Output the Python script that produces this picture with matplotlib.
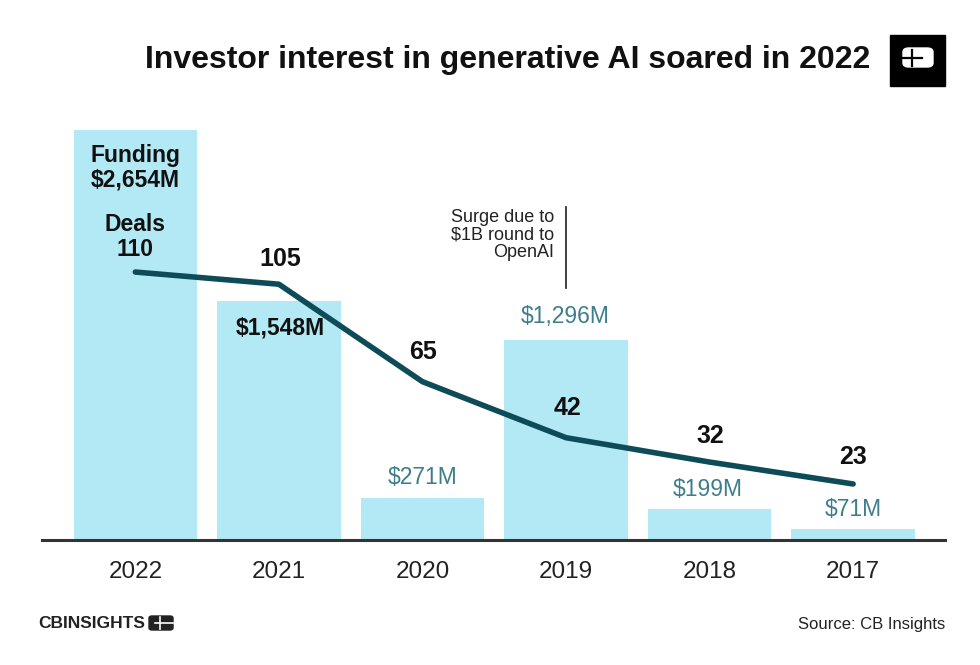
import matplotlib
matplotlib.use("Agg")
import matplotlib.pyplot as plt
from matplotlib.patches import Rectangle, FancyBboxPatch

# ---- data (display order, left to right as in reference) ----
years = ["2022", "2021", "2020", "2019", "2018", "2017"]
funding = [2654, 1548, 271, 1296, 199, 71]          # $M
deals = [110, 105, 65, 42, 32, 23]
funding_labels = ["Funding\n$2,654M", "$1,548M", "$271M", "$1,296M", "$199M", "$71M"]
deal_labels = ["Deals\n110", "105", "65", "42", "32", "23"]
title = "Investor interest in generative AI soared in 2022"
note = "Surge due to\n$1B round to\nOpenAI"
source = "Source: CB Insights"

plt.rcParams["font.family"] = ["Liberation Sans", "DejaVu Sans"]

BAR = "#b3e9f4"
LINE = "#0e4b58"
TEAL = "#3d7e8c"

fig = plt.figure(figsize=(9.8, 6.65), dpi=100)
W, H = 980, 665
def fx(x): return x / W
def fy(y): return 1 - y / H

ax = fig.add_axes([fx(42), fy(540), fx(945) - fx(42), fy(120) - fy(540)])
x = list(range(len(years)))
ax.bar(x, funding, width=0.86, color=BAR, zorder=1)
ax.set_xlim(-0.65, 5.64)
ax.set_ylim(0, 420 / 0.1545)
for s in ["top", "left", "right"]:
    ax.spines[s].set_visible(False)
ax.spines["bottom"].set_color("#333333")
ax.spines["bottom"].set_linewidth(2.2)
ax.set_yticks([])
ax.set_xticks(x)
ax.set_xticklabels(years, fontsize=17.5, color="#222222")
ax.tick_params(axis="x", length=0, pad=15)

ax2 = ax.twinx()
ax2.plot(x, deals, color=LINE, lw=4, solid_capstyle="round", zorder=3)
ax2.set_ylim(0, 420 / 2.436)
ax2.set_yticks([])
for s in ["top", "left", "right", "bottom"]:
    ax2.spines[s].set_visible(False)

# funding labels (pixel positions from reference)
fl_pos = [(135, 168), (280, 328), (423, 477), (565, 316), (708, 489), (853, 509)]
fl_style = [dict(color="#111111", fontweight="bold"), dict(color="#111111", fontweight="bold"),
            dict(color=TEAL), dict(color=TEAL), dict(color=TEAL), dict(color=TEAL)]
for lab, (px, py), st in zip(funding_labels, fl_pos, fl_style):
    fig.text(fx(px), fy(py), lab, ha="center", va="center", fontsize=16.5,
             linespacing=1.1, **st)

dl_pos = [(135, 237), (280, 259), (423, 352), (567, 408), (710, 436), (853, 457)]
for lab, (px, py) in zip(deal_labels, dl_pos):
    fig.text(fx(px), fy(py), lab, ha="center", va="center",
             fontsize=16.5 if "\n" in lab else 18,
             fontweight="bold", color="#111111", linespacing=1.1)

# annotation
fig.text(fx(554), fy(235), note, ha="right", va="center", fontsize=13,
         color="#222222", linespacing=1.05)
fig.add_artist(plt.Line2D([fx(566), fx(566)], [fy(207), fy(288)], color="#333333", lw=1.3))

# title
fig.text(fx(870), fy(60), title, ha="right", va="center", fontsize=23,
         fontweight="bold", color="#111111")

# logo box
fig.add_artist(Rectangle((fx(890), fy(86)), fx(55), fy(35) - fy(86),
                         transform=fig.transFigure, color="#000000"))
fig.add_artist(FancyBboxPatch((fx(903), fy(67)), fx(30), fy(48) - fy(67),
                              boxstyle="round,pad=0,rounding_size=0.006",
                              transform=fig.transFigure, fc="white", ec="white", lw=1))
fig.add_artist(plt.Line2D([fx(903), fx(922)], [fy(58), fy(58)], color="black", lw=1.6))
fig.add_artist(plt.Line2D([fx(912), fx(912)], [fy(50), fy(66)], color="black", lw=1.6))

# footer
fig.text(fx(945), fy(625), source, ha="right", va="center", fontsize=12, color="#222222")
fig.text(fx(145), fy(623), "CBINSIGHTS", ha="right", va="center", fontsize=12.5,
         fontweight="bold", color="#222222")
fig.add_artist(FancyBboxPatch((fx(149), fy(630)), fx(24), fy(616) - fy(630),
                              boxstyle="round,pad=0,rounding_size=0.003",
                              transform=fig.transFigure, fc="#222222", ec="#222222"))
fig.add_artist(plt.Line2D([fx(155), fx(173)], [fy(623), fy(623)], color="white", lw=1.2))
fig.add_artist(plt.Line2D([fx(160), fx(160)], [fy(617), fy(629)], color="white", lw=1.2))

fig.savefig("out.png", dpi=100, facecolor="white")
